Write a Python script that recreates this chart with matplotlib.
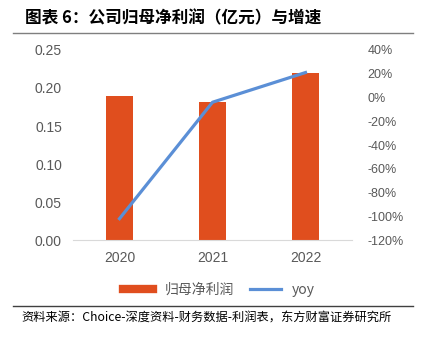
import matplotlib
matplotlib.use("Agg")
import matplotlib.pyplot as plt
from matplotlib.lines import Line2D
from matplotlib.ticker import FuncFormatter

plt.rcParams['font.family'] = ['Noto Sans CJK SC', 'DejaVu Sans']

# data
years = ["2020", "2021", "2022"]
profit = [0.189, 0.182, 0.220]      # 归母净利润（亿元）
yoy = [-102, -4, 21]                # 增速 %
left_ticks = [0.00, 0.05, 0.10, 0.15, 0.20, 0.25]
right_ticks = [40, 20, 0, -20, -40, -60, -80, -100, -120]

bar_color = "#E04E1E"
line_color = "#5B8FD6"
tick_color = "#595959"


def main():
    fig = plt.figure(figsize=(4.21, 3.40), dpi=100)
    ax = fig.add_axes([0.1734, 0.294, 0.6627, 0.559])
    x = list(range(len(years)))

    ax.bar(x, profit, width=0.3, color=bar_color, zorder=2)
    ax.set_xlim(-0.5, len(years) - 0.5)
    ax.set_ylim(0, 0.25)
    ax.set_yticks(left_ticks)
    ax.yaxis.set_major_formatter(FuncFormatter(lambda v, p: "%.2f" % v))
    ax.set_xticks(x)
    ax.set_xticklabels(years)

    ax2 = ax.twinx()
    ax2.plot(x, yoy, color=line_color, linewidth=2.3, zorder=3)
    ax2.set_ylim(-120, 40)
    ax2.set_yticks(right_ticks)
    ax2.yaxis.set_major_formatter(FuncFormatter(lambda v, p: "%d%%" % v))

    for a in (ax, ax2):
        for s in a.spines.values():
            s.set_visible(False)
        a.tick_params(length=0, colors=tick_color, labelsize=10)
        for lab in a.get_xticklabels() + a.get_yticklabels():
            lab.set_family(["Liberation Sans", "DejaVu Sans"])
    ax.spines["bottom"].set_visible(True)
    ax.spines["bottom"].set_color("#D9D9D9")
    ax.tick_params(axis="y", pad=8)
    ax.tick_params(axis="x", pad=8)
    ax2.tick_params(axis="y", pad=11, labelsize=9)

    # legend
    handles = [Line2D([], [], color=bar_color, linewidth=6),
               Line2D([], [], color=line_color, linewidth=2.3)]
    fig.legend(handles, ["归母净利润", "yoy"], loc="center",
               bbox_to_anchor=(0.52, 0.147), ncol=2, frameon=False,
               fontsize=10, handlelength=2.2, columnspacing=1.2,
               labelcolor=tick_color)

    # title and source
    fig.text(0.059, 0.945, "图表 6：公司归母净利润（亿元）与增速",
             fontsize=12, fontweight="bold", va="center", ha="left")
    fig.add_artist(Line2D([0.031, 0.981], [0.903, 0.903], color="#7F7F7F",
                          linewidth=1.0, transform=fig.transFigure))
    fig.add_artist(Line2D([0.031, 0.981], [0.1, 0.1], color="#404040",
                          linewidth=1.0, transform=fig.transFigure))
    fig.text(0.052, 0.064, "资料来源：Choice-深度资料-财务数据-利润表，东方财富证券研究所",
             fontsize=8.8, va="center", ha="left")

    fig.savefig("out.png", dpi=100)


if __name__ == "__main__":
    main()
